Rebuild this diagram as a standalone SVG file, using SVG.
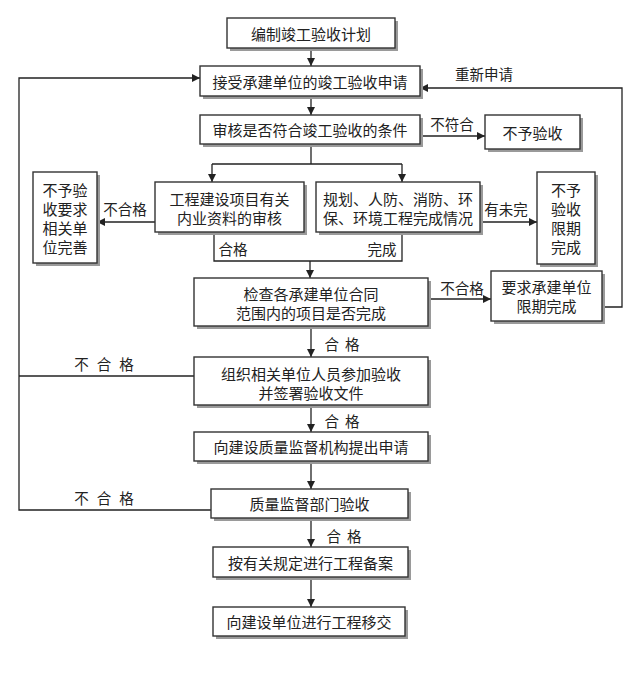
<svg xmlns="http://www.w3.org/2000/svg" width="640" height="674" viewBox="0 0 640 674">
<defs>
<style>
.bx{fill:#ffffff;stroke:#333333;stroke-width:1.4}
.sh{fill:#9a9a9a}
.t{font-family:"Noto Sans CJK SC","Noto Sans",sans-serif;font-size:15px;fill:#222222;text-anchor:middle;dominant-baseline:central}
.l{font-family:"Noto Sans CJK SC","Noto Sans",sans-serif;font-size:14.5px;fill:#222222;text-anchor:middle;dominant-baseline:central}
.ln{fill:none;stroke:#222222;stroke-width:1.3}
.ar{fill:none;stroke:#222222;stroke-width:1.3;marker-end:url(#ah)}
</style>
<marker id="ah" viewBox="0 0 10 10" refX="10" refY="5" markerWidth="8" markerHeight="8" markerUnits="userSpaceOnUse" orient="auto">
<path d="M0,0 L10,5 L0,10 z" fill="#222222"/>
</marker>
</defs>
<rect width="640" height="674" fill="#ffffff"/>

<g id="connectors">
<path class="ar" d="M311,48 V66"/>
<path class="ar" d="M311,96 V115"/>
<path class="ln" d="M311,144 V164 M212,164 H402"/>
<path class="ar" d="M212,164 V182"/>
<path class="ar" d="M402,164 V182"/>
<path class="ar" d="M420,136 H485"/>
<path class="ar" d="M155,222 H97"/>
<path class="ar" d="M480,222 H537"/>
<path class="ln" d="M214,232 V261 H402 V232"/>
<path class="ar" d="M310,261 V278"/>
<path class="ar" d="M428,299 H491"/>
<path class="ar" d="M602,307 H622 V88 H420"/>
<path class="ar" d="M311,326 V357"/>
<path class="ln" d="M194,376 H19"/>
<path class="ar" d="M211,510 H19 V78 H200"/>
<path class="ar" d="M311,405 V432"/>
<path class="ar" d="M311,461 V489"/>
<path class="ar" d="M311,518 V547"/>
<path class="ar" d="M311,577 V607"/>
<text class="l" x="484" y="73">重新申请</text>
<text class="l" x="452" y="123">不符合</text>
<text class="l" x="125" y="208">不合格</text>
<text class="l" x="506" y="208">有未完</text>
<text class="l" x="233" y="248">合格</text>
<text class="l" x="382" y="248">完成</text>
<text class="l" x="462" y="287">不合格</text>
<text class="l" x="345" y="343" letter-spacing="6">合格</text>
<text class="l" x="345" y="420" letter-spacing="6">合格</text>
<text class="l" x="347" y="535" letter-spacing="6">合格</text>
<text class="l" x="108" y="363" letter-spacing="8">不合格</text>
<text class="l" x="108" y="497" letter-spacing="8">不合格</text>
</g>

<g id="n1"><rect class="sh" x="230" y="21" width="168" height="30"/><rect class="bx" x="227" y="18" width="168" height="30"/><text class="t" x="311" y="33">编制竣工验收计划</text></g>
<g id="n2"><rect class="sh" x="203" y="69" width="220" height="30"/><rect class="bx" x="200" y="66" width="220" height="30"/><text class="t" x="310" y="81">接受承建单位的竣工验收申请</text></g>
<g id="n3"><rect class="sh" x="203" y="118" width="220" height="29"/><rect class="bx" x="200" y="115" width="220" height="29"/><text class="t" x="310" y="129.5">审核是否符合竣工验收的条件</text></g>
<g id="n4"><rect class="sh" x="488" y="118" width="95" height="34"/><rect class="bx" x="485" y="115" width="95" height="34"/><text class="t" x="532.5" y="132">不予验收</text></g>
<g id="n5"><rect class="sh" x="158" y="185" width="149" height="50"/><rect class="bx" x="155" y="182" width="149" height="50"/><text class="t" x="229.5" y="198">工程建设项目有关</text><text class="t" x="229.5" y="217">内业资料的审核</text></g>
<g id="n6"><rect class="sh" x="319" y="185" width="164" height="50"/><rect class="bx" x="316" y="182" width="164" height="50"/><text class="t" x="398" y="198">规划、人防、消防、环</text><text class="t" x="398" y="217">保、环境工程完成情况</text></g>
<g id="n7"><rect class="sh" x="36" y="175" width="64" height="91"/><rect class="bx" x="33" y="172" width="64" height="91"/><text class="t" x="65" y="189">不予验</text><text class="t" x="65" y="208">收要求</text><text class="t" x="65" y="227">相关单</text><text class="t" x="65" y="246">位完善</text></g>
<g id="n8"><rect class="sh" x="540" y="175" width="58" height="92"/><rect class="bx" x="537" y="172" width="58" height="92"/><text class="t" x="566" y="189">不予</text><text class="t" x="566" y="208">验收</text><text class="t" x="566" y="227">限期</text><text class="t" x="566" y="246">完成</text></g>
<g id="n9"><rect class="sh" x="197" y="281" width="234" height="48"/><rect class="bx" x="194" y="278" width="234" height="48"/><text class="t" x="311" y="293">检查各承建单位合同</text><text class="t" x="311" y="312">范围内的项目是否完成</text></g>
<g id="n10"><rect class="sh" x="494" y="274" width="111" height="50"/><rect class="bx" x="491" y="271" width="111" height="50"/><text class="t" x="546.5" y="286">要求承建单位</text><text class="t" x="546.5" y="305">限期完成</text></g>
<g id="n11"><rect class="sh" x="197" y="360" width="234" height="48"/><rect class="bx" x="194" y="357" width="234" height="48"/><text class="t" x="311" y="373">组织相关单位人员参加验收</text><text class="t" x="311" y="392">并签署验收文件</text></g>
<g id="n12"><rect class="sh" x="197" y="435" width="234" height="29"/><rect class="bx" x="194" y="432" width="234" height="29"/><text class="t" x="311" y="446.5">向建设质量监督机构提出申请</text></g>
<g id="n13"><rect class="sh" x="214" y="492" width="197" height="29"/><rect class="bx" x="211" y="489" width="197" height="29"/><text class="t" x="309.5" y="503.5">质量监督部门验收</text></g>
<g id="n14"><rect class="sh" x="216" y="550" width="195" height="30"/><rect class="bx" x="213" y="547" width="195" height="30"/><text class="t" x="310.5" y="562">按有关规定进行工程备案</text></g>
<g id="n15"><rect class="sh" x="216" y="610" width="192" height="29"/><rect class="bx" x="213" y="607" width="192" height="29"/><text class="t" x="309" y="621.5">向建设单位进行工程移交</text></g>
</svg>
